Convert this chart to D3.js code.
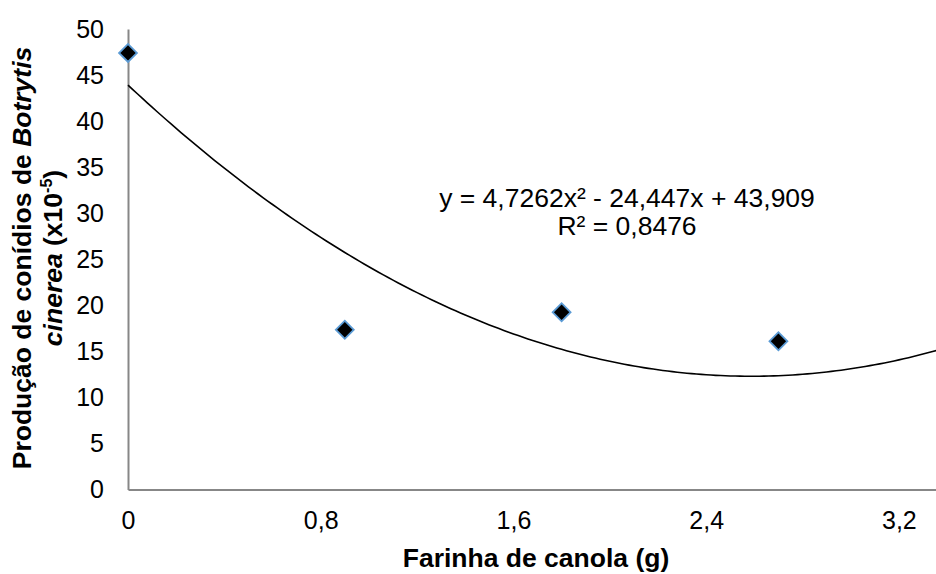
<!DOCTYPE html>
<html>
<head>
<meta charset="utf-8">
<script src="https://cdn.jsdelivr.net/npm/d3@7"></script>
<style>
  body { margin: 0; background: #fff; }
  text { font-family: "Liberation Sans", Arial, sans-serif; }
</style>
</head>
<body>
<script>
var w = 936;
var h = 574;

// data
var doses = [0, 0.9, 1.8, 2.7];
var conidia = [47.4, 17.35, 19.25, 16.1];
var xTicks = [0, 0.8, 1.6, 2.4, 3.2];
var yTicks = [0, 5, 10, 15, 20, 25, 30, 35, 40, 45, 50];
// trendline coefficients as printed on the chart (a, b, c of ax^2 + bx + c)
var trendCoef = [4.7262, -24.447, 43.909];
var eqLines = ["y = 4,7262x² - 24,447x + 43,909", "R² = 0,8476"];

var svg = d3.select("body").append("svg").attr("width", w).attr("height", h);

// physical -> device
var xS = d3.scaleLinear().domain([0, 3.6]).range([128, 128 + 3.6 * 240.9]);
var yS = d3.scaleLinear().domain([0, 50]).range([489.5, 29]);

var fmt = function(d) { return String(d).replace(".", ","); };

// y axis
var yA = d3.axisLeft(yS).tickValues(yTicks).tickSize(0).tickPadding(24);
var gy = svg.append("g").attr("transform", "translate(" + xS(0) + ",0)").call(yA);
gy.select(".domain").attr("stroke", "#878787").attr("stroke-width", 2);
gy.selectAll("text").attr("font-size", "25px").attr("fill", "#000")
  .attr("font-family", "Liberation Sans, Arial, sans-serif");

// x axis
var xA = d3.axisBottom(xS).tickValues(xTicks).tickFormat(fmt).tickSize(0).tickPadding(22);
var gx = svg.append("g").attr("transform", "translate(0," + yS(0) + ")").call(xA);
gx.select(".domain").attr("stroke", "#878787").attr("stroke-width", 2);
gx.selectAll("text").attr("font-size", "25px").attr("fill", "#000")
  .attr("font-family", "Liberation Sans, Arial, sans-serif");

// trendline
var trend = function(x) { return trendCoef[0] * x * x + trendCoef[1] * x + trendCoef[2]; };
var xs = d3.range(0, 3.6, 0.02);
svg.append("path")
  .datum(xs)
  .attr("d", d3.line().x(function(d) { return xS(d); }).y(function(d) { return yS(trend(d)); }))
  .attr("fill", "none")
  .attr("stroke", "#000")
  .attr("stroke-width", 1.6);

// points
svg.selectAll("path.pt").data(doses).enter().append("path")
  .attr("class", "pt")
  .attr("d", d3.symbol().type(d3.symbolSquare).size(160))
  .attr("transform", function(d, i) { return "translate(" + xS(d) + "," + yS(conidia[i]) + ") rotate(45)"; })
  .attr("fill", "#000")
  .attr("stroke", "#5b9bd5")
  .attr("stroke-width", 1.8);

// equation label
svg.selectAll("text.eq").data(eqLines).enter().append("text")
  .attr("class", "eq")
  .attr("x", 627)
  .attr("y", function(d, i) { return 207 + i * 28; })
  .attr("text-anchor", "middle")
  .attr("font-size", "26.5px")
  .text(function(d) { return d; });

// x title
svg.append("text")
  .attr("x", 536).attr("y", 567)
  .attr("text-anchor", "middle")
  .attr("font-size", "26.5px")
  .attr("font-weight", "bold")
  .text("Farinha de canola (g)");

// y title, two lines
var yt = svg.append("g").attr("transform", "translate(31,258) rotate(-90)");
var t1 = yt.append("text").attr("x", 0).attr("y", 0).attr("text-anchor", "middle")
  .attr("font-size", "26.5px").attr("font-weight", "bold");
t1.append("tspan").text("Produção de conídios de ");
t1.append("tspan").attr("font-style", "italic").text("Botrytis");
var t2 = yt.append("text").attr("x", 0).attr("y", 31).attr("text-anchor", "middle")
  .attr("font-size", "26.5px").attr("font-weight", "bold");
t2.append("tspan").attr("font-style", "italic").text("cinerea");
t2.append("tspan").text(" (x10");
t2.append("tspan").attr("font-size", "16px").attr("dy", -10).text("-5");
t2.append("tspan").attr("dy", 10).text(")");
</script>
</body>
</html>
